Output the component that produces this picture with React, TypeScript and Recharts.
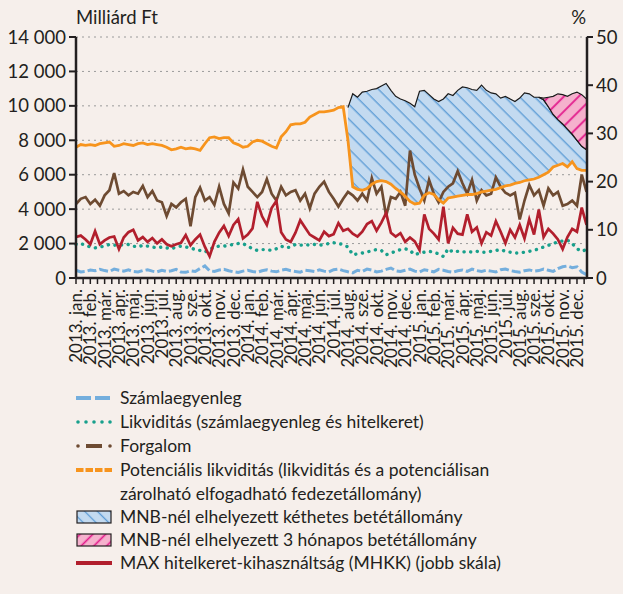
import { ComposedChart, Line, Area, XAxis, YAxis, CartesianGrid } from 'recharts'

const font = 'Lato, "Open Sans", sans-serif'
const ink = '#231f20'

const years = ['2013', '2014', '2015']
const months = ['jan.', 'feb.', 'már.', 'ápr.', 'máj.', 'jún.', 'júl.', 'aug.', 'sze.', 'okt.', 'nov.', 'dec.']
const leftTicks = [0, 2000, 4000, 6000, 8000, 10000, 12000, 14000]
const rightTicks = [0, 5, 10, 15, 20, 25, 30, 35, 40, 45, 50]

// three readings per month, Jan 2013 - Dec 2015 (Mrd Ft, MHKK in %)
const szamla = [
  450, 350, 380, 460, 420, 500, 430, 380, 520, 450,
  400, 470, 380, 350, 430, 480, 400, 360, 450, 380,
  420, 500, 350, 330, 420, 380, 550, 700, 420, 380,
  460, 500, 420, 360, 320, 400, 450, 380, 330, 420,
  480, 400, 360, 450, 500, 420, 380, 340, 450, 420,
  380, 470, 400, 350, 480, 520, 430, 360, 300, 450,
  380, 520, 460, 350, 400, 500, 580, 420, 380, 450,
  520, 400, 350, 480, 420, 360, 500, 450, 380, 330,
  420, 460, 380, 520, 430, 380, 450, 400, 350, 480,
  520, 430, 380, 340, 420, 470, 400, 430, 520, 450,
  380, 550, 650, 700, 600, 650, 350, 200,
]

const likv = [
  1950, 2000, 1900, 1800, 1750, 1800, 1850, 1950, 1900, 1950,
  1900, 1950, 1850, 1800, 1900, 1850, 1800, 1750, 1800, 1750,
  1700, 1800, 1850, 1800, 1750, 1650, 1600, 1500, 1650, 1800,
  1850, 1850, 1900, 1950, 2000, 2000, 1850, 1700, 1600, 1650,
  1650, 1600, 1700, 1850, 1750, 1800, 1950, 1900, 1950, 1900,
  1950, 1900, 1950, 2000, 2050, 2000, 1950, 1800, 1350, 1400,
  1450, 1500, 1600, 1650, 1600, 1350, 1450, 1550, 1650, 1700,
  1600, 1350, 1450, 1500, 1550, 1500, 1400, 1250, 1700, 1500,
  1550, 1500, 1550, 1500, 1550, 1500, 1500, 1550, 1600, 1650,
  1550, 1500, 1450, 1450, 1500, 1550, 1600, 1700, 1800, 1900,
  2000, 2100, 2150, 2200, 2000, 1700, 1550, 1650,
]

const forgalom = [
  4300, 4600, 4700, 4300, 4550, 4200, 4800, 5100, 6100, 4900,
  5050, 4800, 5000, 4900, 5350, 4700, 5050, 4500, 4400, 3600,
  4300, 4100, 4400, 4600, 3000, 4700, 5250, 4500, 4700, 4250,
  5300, 4300, 3750, 5550, 5200, 6300, 5300, 5000, 4700, 5000,
  5750, 4900, 4500, 5300, 4800, 5000, 5100, 4500, 4900, 4050,
  4900, 5300, 5600, 5000, 4600, 4150, 4600, 5000, 4800, 4500,
  4900, 4500, 5800, 4900, 5300, 3600, 4700, 4600, 5000, 4200,
  7400, 6000, 5200, 4500, 5700, 4900, 4400, 5000, 5300, 5500,
  6200, 5500, 4900, 5700, 4500, 5100, 4800, 4900, 5850, 5300,
  4950, 4800, 4950, 3400, 4500, 5400, 4800, 5100, 4200, 5200,
  4800, 5000, 4200, 4300, 4500, 4200, 6000, 5000,
]

const potencialis = [
  7600, 7750, 7700, 7750, 7700, 7800, 7850, 7900, 7650, 7700,
  7800, 7750, 7700, 7800, 7850, 7750, 7800, 7750, 7700, 7600,
  7450, 7500, 7600, 7500, 7550, 7500, 7420, 7800, 8150, 8200,
  8100, 8150, 8150, 7850, 7750, 7600, 7650, 7900, 8000, 7950,
  7800, 7650, 7550, 8200, 8500, 8900, 8950, 8950, 9050, 9350,
  9500, 9650, 9650, 9700, 9750, 9900, 9950, 8000, 5300, 5150,
  5100, 5200, 5450, 5600, 5650, 5600, 5450, 5200, 5000, 4750,
  4450, 4300, 4350, 4800, 4950, 4850, 4550, 4350, 4650, 4700,
  4750, 4800, 4850, 4850, 4900, 5000, 5050, 5100, 5150, 5250,
  5350, 5400, 5500, 5550, 5650, 5700, 5750, 5850, 6000, 6150,
  6450, 6550, 6650, 6450, 6750, 6350, 6250, 6250,
]

// MNB two-week deposit (stacked above potential liquidity), from Aug 2014
const ketheti: (number | null)[] = [
  ...Array(57).fill(null),
  1900, 5400, 5350,
  5700, 5650, 5500, 5400, 5500, 5700, 5450, 5350, 5400, 5550,
  5700, 5650, 6500, 6100, 5700, 5550, 5700, 6050, 6050, 5900,
  6150, 6300, 6200, 6100, 6000, 6200, 5850, 5650, 5550, 5200,
  5200, 5000, 4750, 4900, 5100, 5000, 4750, 4650, 4350, 3800,
  3050, 2650, 2300, 2200, 1600, 1650, 1400, 1200,
]

// MNB three-month deposit, from autumn 2015
const haromhavi: (number | null)[] = [
  ...Array(97).fill(null),
  0, 100, 550,
  1050, 1500, 1700, 1900, 2350, 2800, 3000, 2950,
]

const mhkk = [
  8.5, 8.8, 8.0, 7.0, 9.7, 7.0, 7.8, 8.4, 8.6, 6.0,
  8.4, 9.5, 10.0, 7.8, 8.5, 7.5, 8.3, 7.2, 8.0, 7.0,
  6.6, 7.0, 7.3, 8.9, 6.8, 8.0, 9.0, 6.5, 4.5, 7.5,
  9.4, 10.8, 8.7, 11.0, 12.2, 8.2, 9.0, 10.3, 15.8, 12.8,
  11.0, 14.5, 16.0, 9.5, 8.0, 7.5, 9.4, 12.0, 10.5, 9.0,
  8.4, 7.8, 9.6, 8.7, 9.1, 11.4, 9.8, 10.2, 9.2, 8.6,
  9.6, 11.2, 11.8, 9.8, 11.5, 13.5, 9.4, 8.6, 9.3, 7.5,
  8.4, 7.6, 5.8, 13.2, 10.2, 9.2, 8.0, 14.8, 7.2, 10.4,
  9.2, 9.0, 13.2, 9.6, 10.5, 7.2, 9.5, 8.8, 11.8, 9.6,
  7.2, 10.0, 8.4, 11.0, 8.2, 12.2, 9.0, 14.2, 8.5, 10.2,
  9.2, 8.0, 6.0, 8.5, 10.2, 9.6, 14.6, 11.0,
]

const legendLabels = [
  'Számlaegyenleg',
  'Likviditás (számlaegyenleg és hitelkeret)',
  'Forgalom',
  'Potenciális likviditás (likviditás és a potenciálisan',
  'zárolható elfogadható fedezetállomány)',
  'MNB-nél elhelyezett kéthetes betétállomány',
  'MNB-nél elhelyezett 3 hónapos betétállomány',
  'MAX hitelkeret-kihasználtság (MHKK) (jobb skála)',
]

const data = potencialis.map((p, i) => {
  const k = ketheti[i]
  const h = haromhavi[i]
  return {
    t: i / 3,
    szamla: szamla[i],
    likv: likv[i],
    forg: forgalom[i],
    pot: p,
    mhkk: mhkk[i],
    ket: k == null ? null : [p, p + k],
    har: h == null || k == null ? null : [p + k, p + k + h],
  }
})

const xTicks = years.flatMap((_, y) => months.flatMap((_, m) => [y * 12 + m, y * 12 + m + 0.5]))

const fmt = (v: number) => String(v).replace(/\B(?=(\d{3})+(?!\d))/g, ' ')

function MonthTick({ x, y, payload }: any) {
  const v = payload.value as number
  if (v % 1 !== 0) return <g />
  const label = `${years[Math.floor(v / 12)]}. ${months[v % 12]}`
  return (
    <text
      x={x}
      y={y}
      dy="0.36em"
      transform={`rotate(-90 ${x} ${y})`}
      textAnchor="end"
      fontSize={17}
      fontFamily={font}
      fill={ink}
    >
      {label}
    </text>
  )
}

function Marker({ kind }: { kind: string }) {
  return (
    <svg width={36} height={16} style={{ position: 'absolute', left: 76, top: 4 }}>
      <defs>
        <pattern id="legBlue" patternUnits="userSpaceOnUse" width="9" height="9" patternTransform="rotate(-45)">
          <rect width="9" height="9" fill="#c3daf0" />
          <line x1="4.5" y1="0" x2="4.5" y2="9" stroke="#5b9bd5" strokeWidth="1.3" />
        </pattern>
        <pattern id="legPink" patternUnits="userSpaceOnUse" width="9" height="9" patternTransform="rotate(45)">
          <rect width="9" height="9" fill="#f5b1cd" />
          <line x1="4.5" y1="0" x2="4.5" y2="9" stroke="#e2188a" strokeWidth="1.6" />
        </pattern>
      </defs>
      {kind === 'szamla' && <line x1={0} y1={8} x2={36} y2={8} stroke="#74aedd" strokeWidth={4} strokeDasharray="15 4" />}
      {kind === 'likv' &&
        [2, 10, 18, 26, 34].map((cx) => <circle key={cx} cx={cx} cy={8} r={1.8} fill="#18a08c" />)}
      {kind === 'forg' && (
        <g fill="#6e4b32">
          <circle cx={2} cy={8} r={1.8} />
          <rect x={10} y={6} width={16} height={4} />
          <circle cx={34} cy={8} r={1.8} />
        </g>
      )}
      {kind === 'pot' && <line x1={0} y1={8} x2={36} y2={8} stroke="#f7941d" strokeWidth={4} strokeDasharray="7.5 2" />}
      {kind === 'ket' && <rect x={1} y={2} width={34} height={12} fill="url(#legBlue)" stroke={ink} strokeWidth={1.2} />}
      {kind === 'har' && <rect x={1} y={2} width={34} height={12} fill="url(#legPink)" stroke={ink} strokeWidth={1.2} />}
      {kind === 'mhkk' && <line x1={0} y1={8} x2={36} y2={8} stroke="#b21f2d" strokeWidth={4} />}
    </svg>
  )
}

const legendRows = [
  { kind: 'szamla', lines: [legendLabels[0]], top: 386 },
  { kind: 'likv', lines: [legendLabels[1]], top: 410 },
  { kind: 'forg', lines: [legendLabels[2]], top: 434 },
  { kind: 'pot', lines: [legendLabels[3], legendLabels[4]], top: 458 },
  { kind: 'ket', lines: [legendLabels[5]], top: 505 },
  { kind: 'har', lines: [legendLabels[6]], top: 528 },
  { kind: 'mhkk', lines: [legendLabels[7]], top: 551 },
]

export default function App() {
  return (
    <div
      style={{
        position: 'absolute',
        left: 0,
        top: 0,
        width: 623,
        height: 594,
        background: '#f6efeb',
        fontFamily: font,
        color: ink,
        overflow: 'hidden',
      }}
    >
      <div style={{ position: 'absolute', left: 76, top: 6, fontSize: 18.5, lineHeight: '22px' }}>Milliárd Ft</div>
      <div style={{ position: 'absolute', right: 37, top: 6, fontSize: 18.5, lineHeight: '22px' }}>%</div>

      <ComposedChart width={623} height={390} data={data} margin={{ top: 37, right: 0, bottom: 0, left: 0 }}>
        <defs>
          <pattern id="hatchBlue" patternUnits="userSpaceOnUse" width="10.5" height="10.5" patternTransform="rotate(-45)">
            <rect width="10.5" height="10.5" fill="#c3daf0" />
            <line x1="5" y1="0" x2="5" y2="10.5" stroke="#5b9bd5" strokeWidth="1.3" />
          </pattern>
          <pattern id="hatchPink" patternUnits="userSpaceOnUse" width="10.5" height="10.5" patternTransform="rotate(45)">
            <rect width="10.5" height="10.5" fill="#f5b1cd" />
            <line x1="5" y1="0" x2="5" y2="10.5" stroke="#e2188a" strokeWidth="1.8" />
          </pattern>
        </defs>
        <CartesianGrid yAxisId="left" vertical={false} stroke="#9a9a9a" strokeDasharray="2 4" />
        <XAxis
          dataKey="t"
          type="number"
          domain={[0, 35.7]}
          ticks={xTicks}
          interval={0}
          height={112}
          tickSize={6}
          tickMargin={5}
          tick={<MonthTick />}
          axisLine={{ stroke: ink, strokeWidth: 2.5 }}
          tickLine={{ stroke: ink, strokeWidth: 1.5 }}
        />
        <YAxis
          yAxisId="left"
          domain={[0, 14000]}
          ticks={leftTicks}
          width={76}
          tickSize={7}
          tickMargin={3}
          tickFormatter={fmt}
          tick={{ fill: ink, fontSize: 18.5, fontFamily: font }}
          axisLine={{ stroke: ink, strokeWidth: 2.5 }}
          tickLine={{ stroke: ink, strokeWidth: 2 }}
        />
        <YAxis
          yAxisId="right"
          orientation="right"
          domain={[0, 50]}
          ticks={rightTicks}
          width={36}
          tickSize={6}
          tickMargin={3}
          tick={{ fill: ink, fontSize: 18.5, fontFamily: font }}
          axisLine={{ stroke: ink, strokeWidth: 2.5 }}
          tickLine={{ stroke: ink, strokeWidth: 2 }}
        />
        <Area yAxisId="left" dataKey="ket" type="linear" fill="url(#hatchBlue)" fillOpacity={1} stroke="#1a1a1a" strokeWidth={1.2} isAnimationActive={false} />
        <Area yAxisId="left" dataKey="har" type="linear" fill="url(#hatchPink)" fillOpacity={1} stroke="#1a1a1a" strokeWidth={1.2} isAnimationActive={false} />
        <Line yAxisId="left" dataKey="szamla" type="linear" stroke="#74aedd" strokeWidth={3} strokeDasharray="9 3" dot={false} isAnimationActive={false} />
        <Line yAxisId="left" dataKey="likv" type="linear" stroke="#18a08c" strokeWidth={3.4} strokeDasharray="0.1 6.6" strokeLinecap="round" dot={false} isAnimationActive={false} />
        <Line yAxisId="left" dataKey="forg" type="linear" stroke="#6e4b32" strokeWidth={2.7} dot={false} isAnimationActive={false} />
        <Line yAxisId="left" dataKey="pot" type="linear" stroke="#f7941d" strokeWidth={2.8} dot={false} isAnimationActive={false} />
        <Line yAxisId="right" dataKey="mhkk" type="linear" stroke="#b21f2d" strokeWidth={2.7} dot={false} isAnimationActive={false} />
      </ComposedChart>

      {legendRows.map((row) => (
        <div key={row.kind} style={{ position: 'absolute', left: 0, top: row.top, width: 623 }}>
          <Marker kind={row.kind} />
          <div style={{ marginLeft: 120, fontSize: 17.5, lineHeight: '23.5px', whiteSpace: 'nowrap' }}>
            {row.lines.map((l) => (
              <div key={l}>{l}</div>
            ))}
          </div>
        </div>
      ))}
    </div>
  )
}
